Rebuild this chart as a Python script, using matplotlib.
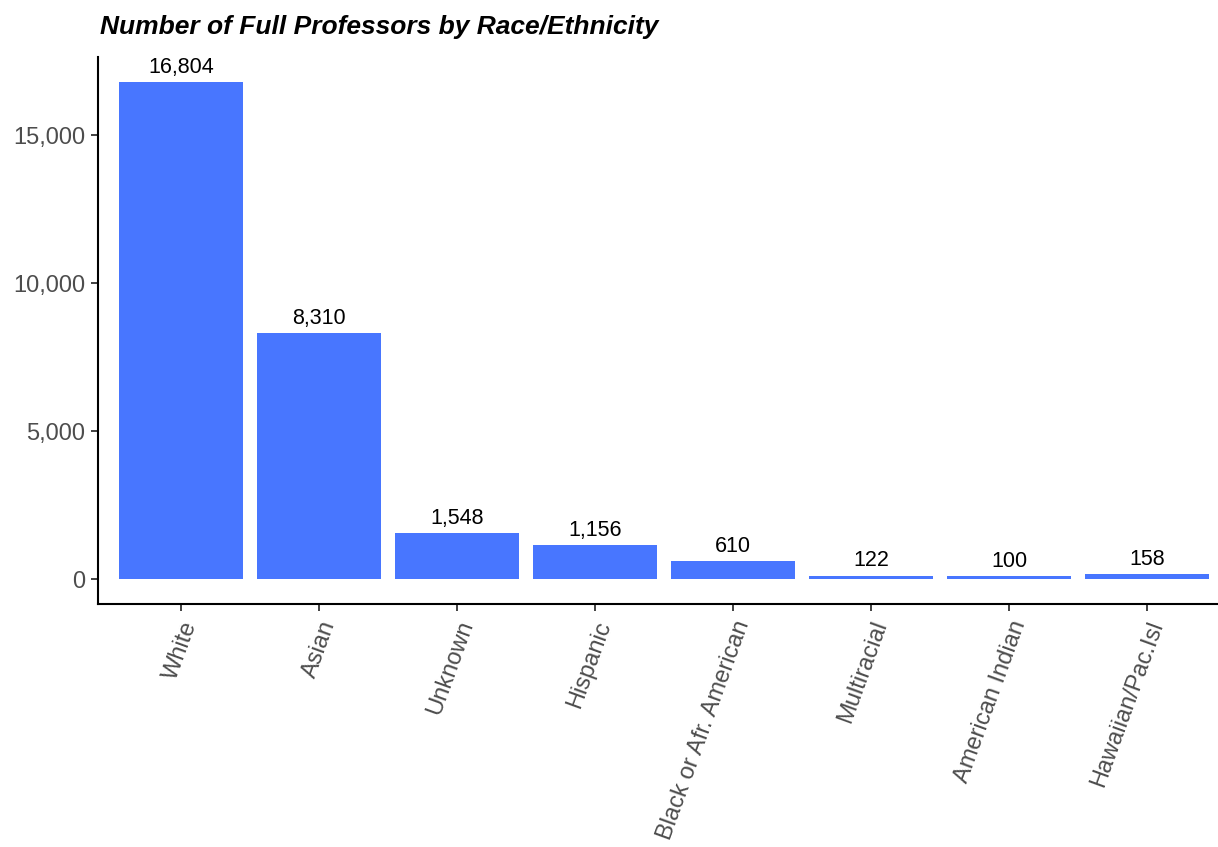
import matplotlib.pyplot as plt

# data
groups = ['White', 'Asian', 'Unknown', 'Hispanic', 'Black or Afr. American',
          'Multiracial', 'American Indian', 'Hawaiian/Pac.Isl']
counts = [16804, 8310, 1548, 1156, 610, 122, 100, 158]
y_ticks = [0, 5000, 10000, 15000]

plt.rcParams['font.family'] = ['Liberation Sans', 'DejaVu Sans']

fig = plt.figure(figsize=(12.18, 8.47), dpi=100)
ax = fig.add_axes([98 / 1218, 1 - 604 / 847, 1 - 98 / 1218, (604 - 57) / 847])

x = list(range(len(groups)))
ax.bar(x, counts, width=0.9, color='#4876FF')

for xi, v in zip(x, counts):
    ax.annotate(f'{v:,}', (xi, v), xytext=(0, 3), textcoords='offset points',
                ha='center', va='bottom', fontsize=15.5, color='black')

ymax = max(counts)
ax.set_ylim(-0.05 * ymax, 1.05 * ymax)
ax.set_xlim(-0.6, 7.514)

ax.set_yticks(y_ticks)
ax.set_yticklabels([f'{t:,}' for t in y_ticks])
ax.set_xticks(x)
ax.set_xticklabels(groups, rotation=70, ha='right', va='top', rotation_mode='anchor')

ax.tick_params(axis='both', labelsize=17, labelcolor='#4D4D4D', color='#333333',
               length=5, width=1.3)
ax.tick_params(axis='x', pad=5)
ax.tick_params(axis='y', pad=4)

for side in ['top', 'right']:
    ax.spines[side].set_visible(False)
for side in ['left', 'bottom']:
    ax.spines[side].set_linewidth(1.5)
    ax.spines[side].set_color('black')

fig.text(100 / 1218, 1 - 27 / 847, 'Number of Full Professors by Race/Ethnicity',
         fontsize=19, fontweight='bold', fontstyle='italic', ha='left', va='center')

fig.savefig('out.png', dpi=100)
